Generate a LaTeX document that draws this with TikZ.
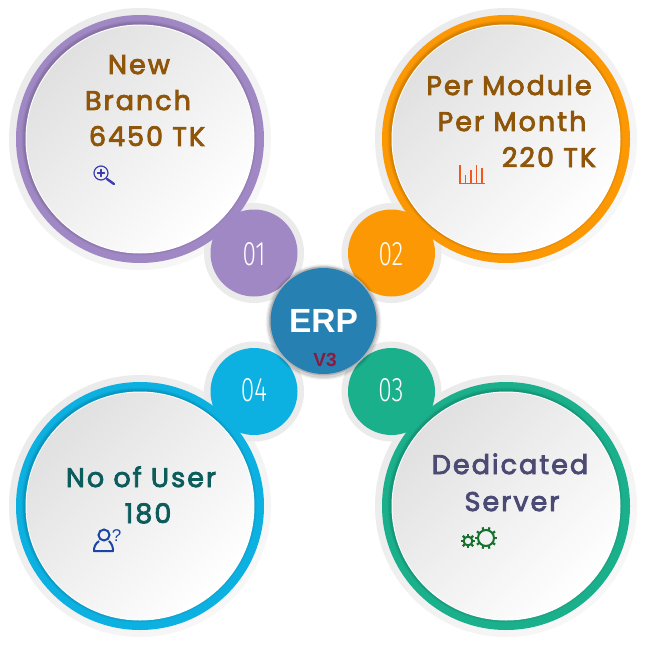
\documentclass[tikz,border=0pt]{standalone}
\usepackage{fontspec}
\setmainfont{Liberation Sans}
\newfontfamily\titlefont[LetterSpace=7.5,FakeBold=3]{Poppins}
\newfontfamily\numfont[FakeStretch=0.72]{Fira Sans Light}
\definecolor{cpurple}{HTML}{A088C4}
\definecolor{corange}{HTML}{FB9803}
\definecolor{cgreen}{HTML}{1BB08C}
\definecolor{cblue}{HTML}{0CB1E2}
\definecolor{cerp}{HTML}{2680B2}
\definecolor{tbrown}{HTML}{8F5508}
\definecolor{tslate}{HTML}{4A4A74}
\definecolor{tteal}{HTML}{0C5C5C}
\definecolor{iconviolet}{HTML}{3C3CB0}
\definecolor{iconred}{HTML}{F0581E}
\definecolor{iconblue}{HTML}{1A44A8}
\definecolor{icongreen}{HTML}{16702E}
\tikzset{
  titletext/.style={anchor=base,inner sep=0pt,font=\titlefont\fontsize{27}{27}\selectfont},
  numtext/.style={anchor=center,inner sep=0pt,text=white,font=\numfont\fontsize{34}{34}\selectfont},
  iconline/.style={line width=#1,line cap=round,line join=round},
}
\newcommand{\petalhalo}[4]{%
  \shade[top color=black!8,bottom color=black!3,shading angle=45] (#1,#2) circle[radius=131pt];
  \fill[black!8] (#3,#4) circle[radius=50pt];
}
\newcommand{\petaldisc}[5]{%
  \fill[#5] (#3,#4) circle[radius=43.5pt];
  \fill[#5] (#1,#2) circle[radius=124pt];
  \foreach \r/\o in {117.5/.04,116.5/.05,115.5/.06}{\fill[black,opacity=\o] (#1-1,#2-1) circle[radius=\r pt];}
  \fill[white] (#1,#2) circle[radius=114.5pt];
  \shade[top color=black!12,bottom color=white,shading angle=45] (#1,#2) circle[radius=113.5pt];
}
\begin{document}
\begin{tikzpicture}[x=1pt,y=-1pt]
\useasboundingbox (0,0) rectangle (650,650);
\fill[white] (0,0) rectangle (650,650);
\petalhalo{140}{139}{254}{253}
\petalhalo{506}{139}{391.5}{253}
\petalhalo{506}{506}{391.5}{391.5}
\petalhalo{140}{506}{254}{391.5}
\petaldisc{140}{139}{254}{253}{cpurple}
\petaldisc{506}{139}{391.5}{253}{corange}
\petaldisc{506}{506}{391.5}{391.5}{cgreen}
\petaldisc{140}{506}{254}{391.5}{cblue}
% numbers
\node[numtext] (n1) at (254,254) {01};
\node[numtext] (n2) at (391,254) {02};
\node[numtext] (n3) at (391,390) {03};
\node[numtext] (n4) at (254,390) {04};
% centre
\foreach \r/\o in {58/.04,57/.06,56/.08}{\fill[black,opacity=\o] (323.5,322) circle[radius=\r pt];}
\fill[black!30] (323.5,321) circle[radius=54.5pt];
\fill[cerp] (323.5,321) circle[radius=53pt];
\node[anchor=base,inner sep=0pt,text=white,font=\bfseries\fontsize{33.5}{33.5}\selectfont] (erp) at (323.5,332) {ERP};
\node[anchor=base,inner sep=0pt,text={rgb,255:red,138;green,26;blue,62},font=\bfseries\fontsize{19}{19}\selectfont] (v3) at (325,366) {V3};
% titles
\node[titletext,text=tbrown] (a1) at (139,74) {New};
\node[titletext,text=tbrown] (a2) at (138,110) {Branch};
\node[titletext,text=tbrown] (a3) at (147,146) {6450 TK};
\node[titletext,text=tbrown] (b1) at (509,95) {Per Module};
\node[titletext,text=tbrown] (b2) at (512,131) {Per Month};
\node[titletext,text=tbrown] (b3) at (549,167) {220 TK};
\node[titletext,text=tslate] (c1) at (510,474) {Dedicated};
\node[titletext,text=tslate] (c2) at (512,511) {Server};
\node[titletext,text=tteal] (d1) at (141,487) {No of User};
\node[titletext,text=tteal] (d2) at (148,523) {180};
% magnifier
\draw[iconline=1.2,color=iconviolet] (101,173) circle[radius=7pt];
\draw[iconline=1.1,color=iconviolet] (97.5,173) -- (104.5,173) (101,169.5) -- (101,176.5);
\draw[iconline=2.4,color=iconviolet] (107,179) -- (114,184);
% bars
\begin{scope}[iconred,line width=1.6pt]
\draw (459,183.5) -- (485,183.5);
\draw (460,165) -- (460,183) (465.5,175) -- (465.5,183) (471,170) -- (471,183) (476.5,165) -- (476.5,183) (482,168) -- (482,183);
\end{scope}
% person
\draw[iconblue,line width=2pt] (104,535) circle[radius=5.5pt];
\draw[iconblue,line width=2pt,line join=round] (99,541) .. controls (95,544) and (94,547) .. (94,551) -- (113,551) .. controls (113,547) and (112,544) .. (109,541);
\node[inner sep=0pt,text=iconblue,font=\fontsize{17}{17}\selectfont] (q) at (116.5,535.5) {?};
% gears
\draw[icongreen,line width=2pt] (468,541) circle[radius=4.4pt];
\foreach \a in {0,45,...,315}{\draw[icongreen,line width=2.2pt] (468,541) ++(\a:5pt) -- ++(\a:2.4pt);}
\draw[icongreen,line width=2pt] (486,538) circle[radius=8pt];
\foreach \a in {0,36,...,324}{\draw[icongreen,line width=2.2pt] (486,538) ++(\a:8.4pt) -- ++(\a:2.8pt);}
\end{tikzpicture}
\end{document}
